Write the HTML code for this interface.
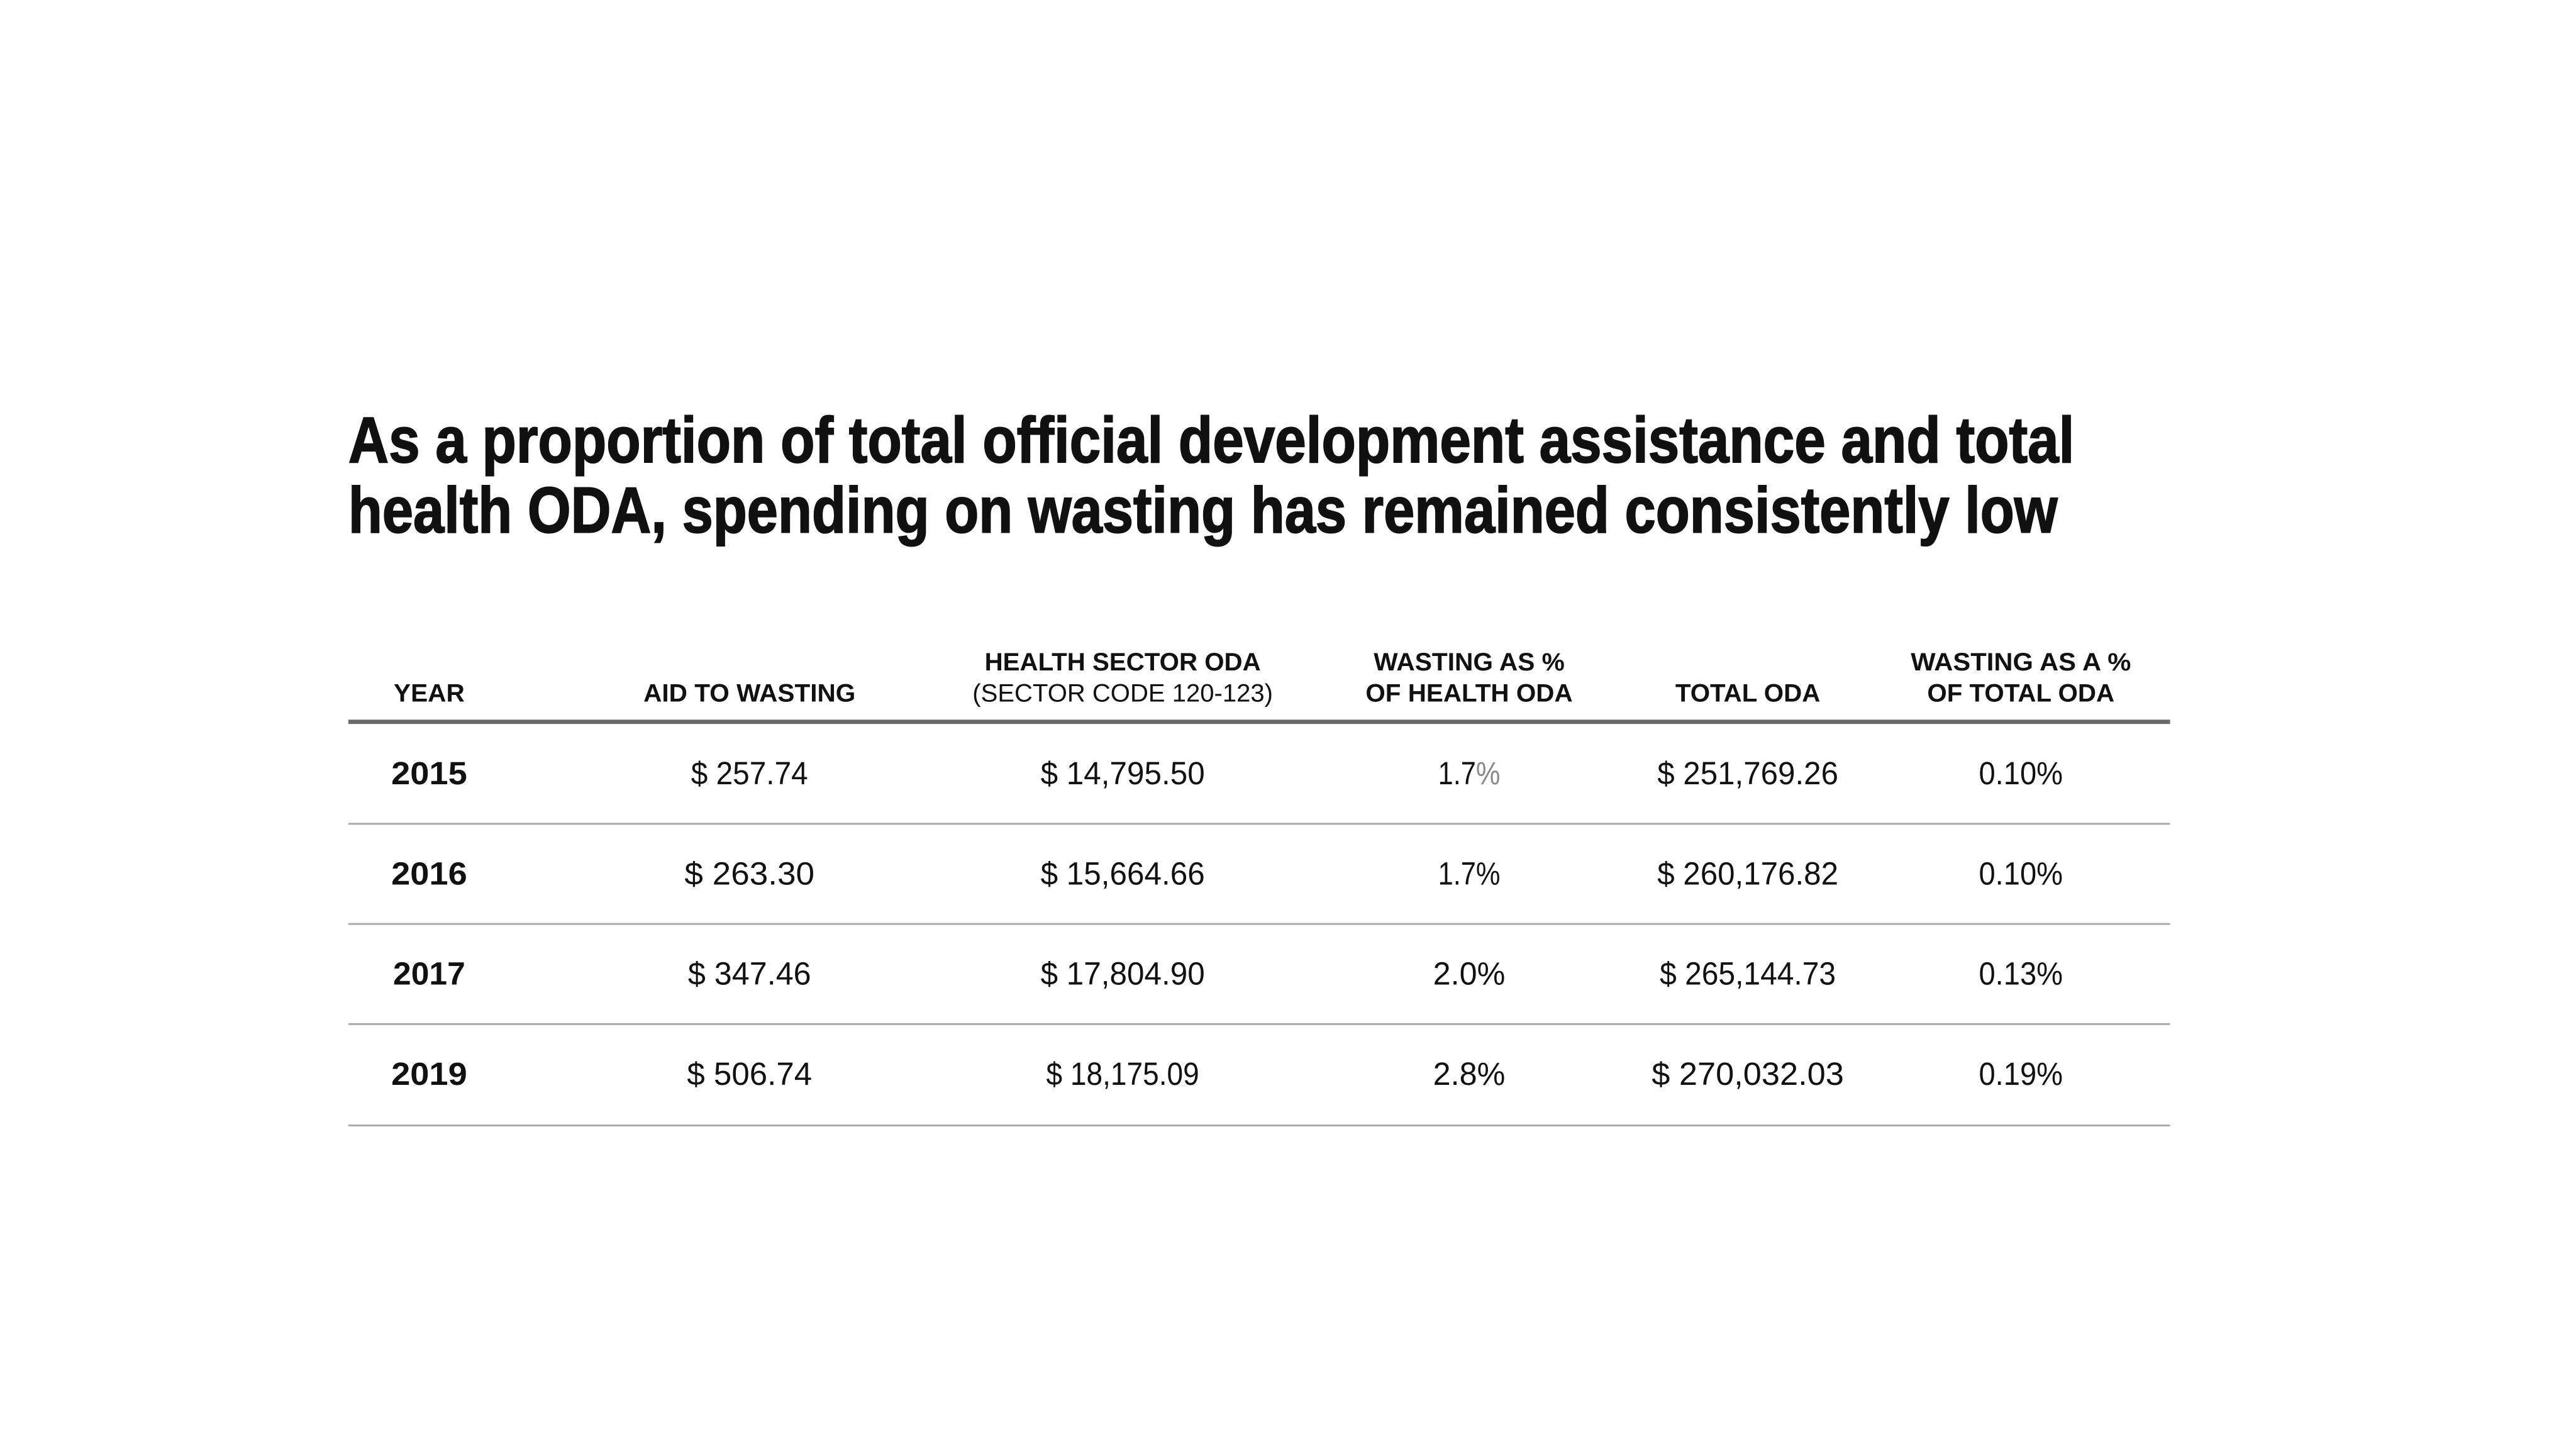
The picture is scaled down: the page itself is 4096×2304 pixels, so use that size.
<!DOCTYPE html>
<html><head><meta charset="utf-8"><style>
html,body{margin:0;padding:0;background:#fff;}
svg{display:block;}
text{font-family:"Liberation Sans",sans-serif;fill:#111;}
.t{font-weight:bold;font-size:104px;}
.h{font-weight:bold;font-size:40px;}
.hn{font-size:40px;}
.b{font-size:52px;}
.y{font-size:52px;font-weight:bold;}
</style></head><body>
<svg width="4096" height="2304" viewBox="0 0 4096 2304" xmlns="http://www.w3.org/2000/svg">
<rect width="4096" height="2304" fill="#fff"/>
<g transform="scale(0.989)">
<text class="t" x="560" y="743" textLength="2775" lengthAdjust="spacingAndGlyphs" stroke="#111" stroke-width="2">As a proportion of total official development assistance and total</text>
<text class="t" x="560" y="856" textLength="2748" lengthAdjust="spacingAndGlyphs" stroke="#111" stroke-width="2">health ODA, spending on wasting has remained consistently low</text>

<g text-anchor="middle">
<text class="h" x="690" y="1128" textLength="114" lengthAdjust="spacingAndGlyphs">YEAR</text>
<text class="h" x="1205" y="1128" textLength="341" lengthAdjust="spacingAndGlyphs">AID TO WASTING</text>
<text class="h" x="1805" y="1078" textLength="444" lengthAdjust="spacingAndGlyphs">HEALTH SECTOR ODA</text>
<text class="hn" x="1805" y="1128" textLength="483" lengthAdjust="spacingAndGlyphs">(SECTOR CODE 120-123)</text>
<text class="h" x="2362" y="1078" textLength="307" lengthAdjust="spacingAndGlyphs">WASTING AS %</text>
<text class="h" x="2362" y="1128" textLength="333" lengthAdjust="spacingAndGlyphs">OF HEALTH ODA</text>
<text class="h" x="2810" y="1128" textLength="233" lengthAdjust="spacingAndGlyphs">TOTAL ODA</text>
<text class="h" x="3249" y="1078" textLength="354" lengthAdjust="spacingAndGlyphs">WASTING AS  A %</text>
<text class="h" x="3249" y="1128" textLength="301" lengthAdjust="spacingAndGlyphs">OF TOTAL ODA</text>
</g>
<rect x="560" y="1157" width="2929" height="7" fill="#6b6b6b"/>

<g text-anchor="middle">
<text class="y" x="690" y="1261" textLength="122" lengthAdjust="spacingAndGlyphs">2015</text>
<text class="b" x="1205" y="1261" textLength="188" lengthAdjust="spacingAndGlyphs">$ 257.74</text>
<text class="b" x="1805" y="1261" textLength="264" lengthAdjust="spacingAndGlyphs">$ 14,795.50</text>
<text class="b" x="2362" y="1261" textLength="100" lengthAdjust="spacingAndGlyphs">1.7<tspan fill="#888">%</tspan></text>
<text class="b" x="2810" y="1261" textLength="291" lengthAdjust="spacingAndGlyphs">$ 251,769.26</text>
<text class="b" x="3249" y="1261" textLength="135" lengthAdjust="spacingAndGlyphs">0.10%</text>

<text class="y" x="690" y="1422" textLength="122" lengthAdjust="spacingAndGlyphs">2016</text>
<text class="b" x="1205" y="1422" textLength="209" lengthAdjust="spacingAndGlyphs">$ 263.30</text>
<text class="b" x="1805" y="1422" textLength="264" lengthAdjust="spacingAndGlyphs">$ 15,664.66</text>
<text class="b" x="2362" y="1422" textLength="100" lengthAdjust="spacingAndGlyphs">1.7%</text>
<text class="b" x="2810" y="1422" textLength="291" lengthAdjust="spacingAndGlyphs">$ 260,176.82</text>
<text class="b" x="3249" y="1422" textLength="135" lengthAdjust="spacingAndGlyphs">0.10%</text>

<text class="y" x="690" y="1583" textLength="116" lengthAdjust="spacingAndGlyphs">2017</text>
<text class="b" x="1205" y="1583" textLength="198" lengthAdjust="spacingAndGlyphs">$ 347.46</text>
<text class="b" x="1805" y="1583" textLength="264" lengthAdjust="spacingAndGlyphs">$ 17,804.90</text>
<text class="b" x="2362" y="1583" textLength="116" lengthAdjust="spacingAndGlyphs">2.0%</text>
<text class="b" x="2810" y="1583" textLength="283" lengthAdjust="spacingAndGlyphs">$ 265,144.73</text>
<text class="b" x="3249" y="1583" textLength="135" lengthAdjust="spacingAndGlyphs">0.13%</text>

<text class="y" x="690" y="1744" textLength="122" lengthAdjust="spacingAndGlyphs">2019</text>
<text class="b" x="1205" y="1744" textLength="201" lengthAdjust="spacingAndGlyphs">$ 506.74</text>
<text class="b" x="1805" y="1744" textLength="246" lengthAdjust="spacingAndGlyphs">$ 18,175.09</text>
<text class="b" x="2362" y="1744" textLength="116" lengthAdjust="spacingAndGlyphs">2.8%</text>
<text class="b" x="2810" y="1744" textLength="309" lengthAdjust="spacingAndGlyphs">$ 270,032.03</text>
<text class="b" x="3249" y="1744" textLength="135" lengthAdjust="spacingAndGlyphs">0.19%</text>
</g>
<rect x="560" y="1323" width="2929" height="3" fill="#aaa"/>
<rect x="560" y="1484" width="2929" height="3" fill="#aaa"/>
<rect x="560" y="1645" width="2929" height="3" fill="#aaa"/>
<rect x="560" y="1808" width="2929" height="3" fill="#aaa"/>
</g>
</svg>
</body></html>
